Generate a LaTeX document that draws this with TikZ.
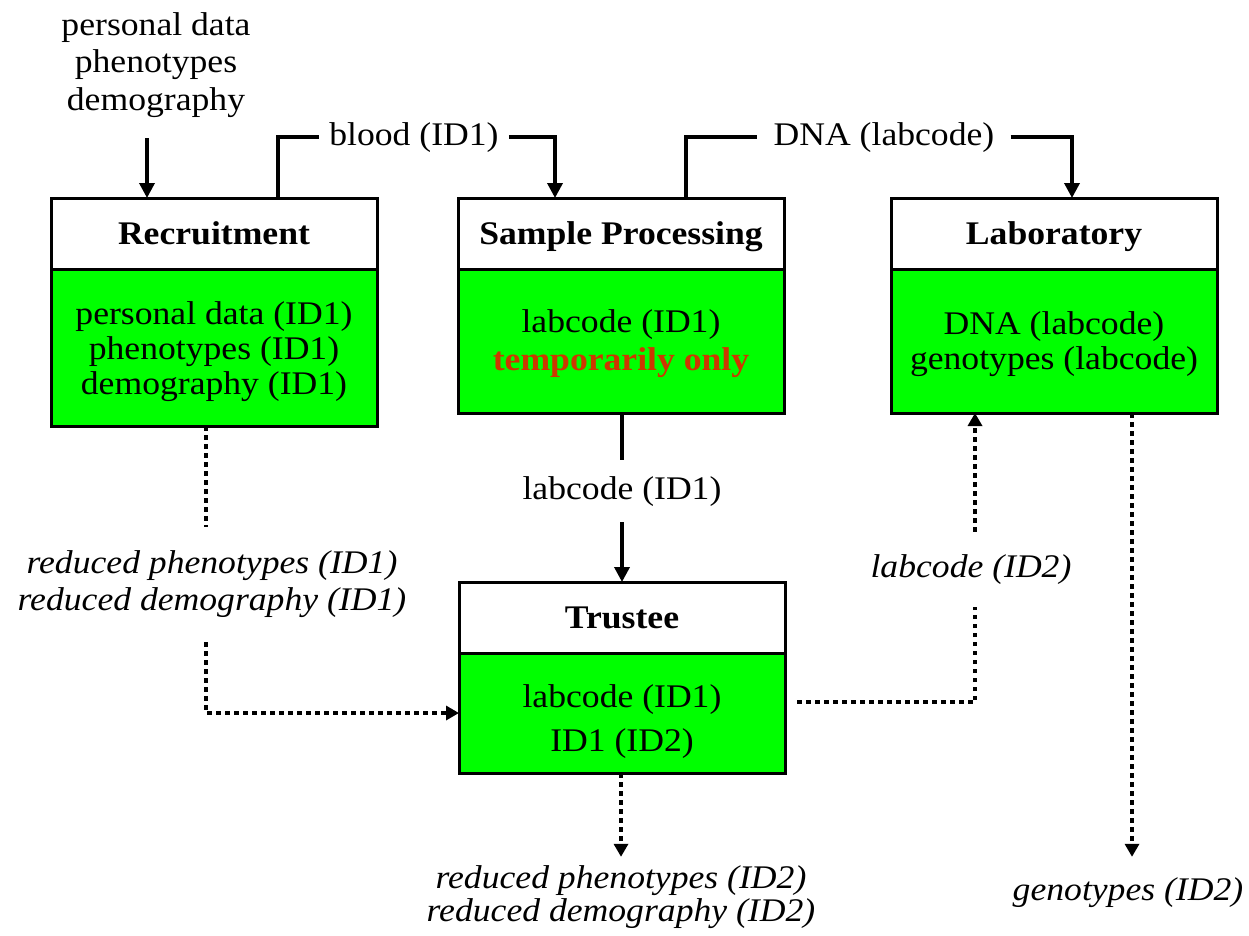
\documentclass[tikz,border=0pt]{standalone}
\usepackage{fontspec}
\setmainfont{Liberation Serif}[FakeStretch=1.08]
\usetikzlibrary{arrows.meta}
\definecolor{boxgreen}{RGB}{0,255,0}
\definecolor{tempred}{RGB}{205,55,0}
\begin{document}
\begin{tikzpicture}[x=1pt,y=-1pt,
  every node/.style={font=\fontsize{33}{35}\selectfont},
  title/.style={draw,line width=3pt,fill=white,minimum width=326pt,minimum height=71pt,
    inner sep=0pt,outer sep=0pt,text height=22pt,text depth=0pt,
    font=\fontsize{33}{35}\selectfont\bfseries},
  body/.style={draw,line width=3pt,fill=boxgreen,minimum width=326pt,inner sep=0pt,
    outer sep=0pt,align=center,anchor=north},
  lbl/.style={inner ysep=0pt,text height=23pt,text depth=7pt},
  ilbl/.style={inner sep=0pt,align=center,font=\fontsize{33}{37}\selectfont\itshape},
  sol/.style={line width=3.5pt},
  arr/.style={line width=3.5pt,-{Triangle[length=15pt,width=15pt]}},
  dotl/.style={line width=4.5pt,dash pattern=on 4.5pt off 4.5pt},
  dotarr/.style={dotl,-{Triangle[length=13pt,width=14pt]}},
]
\useasboundingbox (0,0) rectangle (1249,935);

% boxes
\node[title] (rt) at (214,233.5) {Recruitment};
\node[body,minimum height=157pt] (rb) at (rt.south)
  {\rule{0pt}{31pt}personal data (ID1)\\phenotypes (ID1)\\demography (ID1)};

\node[title] (st) at (621,233.5) {Sample Processing};
\node[body,minimum height=144pt,font=\fontsize{33}{38}\selectfont] (sb) at (st.south)
  {\rule{0pt}{28pt}labcode (ID1)\\\textcolor{tempred}{\bfseries temporarily only}};

\node[title] (lt) at (1054,233.5) {Laboratory};
\node[body,minimum height=144pt] (lb) at (lt.south)
  {\rule{0pt}{30pt}DNA (labcode)\\genotypes (labcode)};

\node[title] (tt) at (622,617.5) {Trustee};
\node[body,minimum height=120pt,font=\fontsize{33}{44}\selectfont] (tb) at (tt.south)
  {\rule{0pt}{39pt}labcode (ID1)\\ID1 (ID2)};

% labels
\node[inner sep=0pt,align=center,font=\fontsize{33}{37.5}\selectfont] (src) at (156,65)
  {personal data\\phenotypes\\demography};
\node[lbl,inner xsep=10pt] (blood) at (414,137) {blood (ID1)};
\node[lbl,inner xsep=16pt] (dna) at (884,137) {DNA (labcode)};
\node[lbl,minimum height=62pt] (lc1) at (622,491) {labcode (ID1)};
\node[ilbl,minimum height=115pt] (red1) at (212,584.5)
  {reduced phenotypes (ID1)\\reduced demography (ID1)};
\node[ilbl,minimum height=75pt] (lc2) at (971,569.5) {labcode (ID2)};
\node[ilbl,minimum height=72pt] (geno) at (1128,893) {genotypes (ID2)};
\node[ilbl,minimum height=80pt,font=\fontsize{33}{33}\selectfont\itshape] (red2) at (621,897)
  {reduced phenotypes (ID2)\\reduced demography (ID2)};

% helper coordinates
\coordinate (a0) at (147,138);
\coordinate (xb) at (278,0);
\coordinate (xs) at (555,0);
\coordinate (xd) at (686,0);
\coordinate (xl) at (1072,0);
\coordinate (xr) at (206,0);
\coordinate (ya) at (0,713);
\coordinate (t0) at (797,702);
\coordinate (xl2) at (975,0);
\coordinate (xg) at (1132,0);

% solid connectors
\draw[arr] (a0) -- (rt.north -| a0);
\draw[sol] (rt.north -| xb) |- (blood.west);
\draw[arr] (blood.east) -| (st.north -| xs);
\draw[sol] (st.north -| xd) |- (dna.west);
\draw[arr] (dna.east) -| (lt.north -| xl);
\draw[sol] (lc1.north |- sb.south) -- (lc1.north);
\draw[arr] (lc1.south) -- (tt.north -| lc1.south);

% dotted connectors
\draw[dotl] (rb.south -| xr) -- (red1.north -| xr);
\draw[dotarr] (red1.south -| xr) |- (tb.west |- ya);
\draw[dotl] (t0) -| (lc2.south -| xl2);
\draw[dotarr] (lc2.north -| xl2) -- (lb.south -| xl2);
\draw[dotarr] (lb.south -| xg) -- (geno.north -| xg);
\draw[dotarr] (tb.south -| red2.north) -- (red2.north);
\end{tikzpicture}
\end{document}
